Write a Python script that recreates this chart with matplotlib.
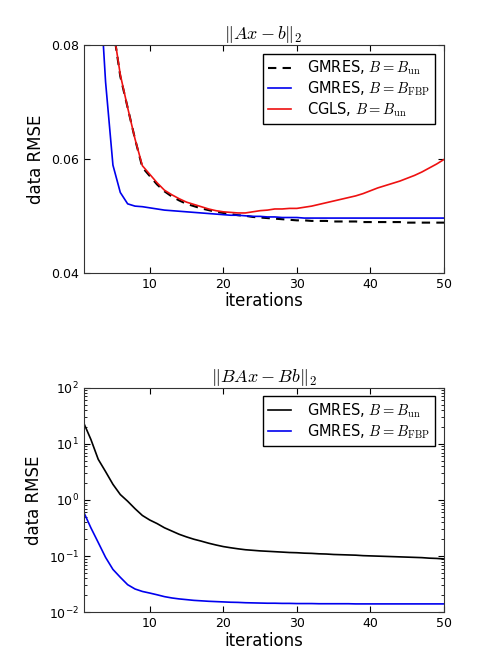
import numpy as np
import matplotlib
matplotlib.use("Agg")
import matplotlib.pyplot as plt

plt.rcParams['mathtext.fontset'] = 'cm'
plt.rcParams['font.family'] = 'DejaVu Sans'
plt.rcParams['xtick.direction'] = 'in'
plt.rcParams['ytick.direction'] = 'in'
plt.rcParams['xtick.top'] = True
plt.rcParams['ytick.right'] = True

iters = list(range(1, 51))

# top panel: ||Ax - b||_2
gmres_un = [0.200, 0.150, 0.120, 0.096, 0.0832, 0.0745, 0.0690, 0.0635, 0.0585, 0.0570,
            0.0555, 0.0543, 0.0534, 0.0527, 0.0521, 0.0517, 0.0513, 0.0510, 0.0507, 0.0505,
            0.0503, 0.0501, 0.0500, 0.0498, 0.0497, 0.0496, 0.0495, 0.0494, 0.0493, 0.0492,
            0.0492, 0.0491, 0.0491, 0.0491, 0.0490, 0.0490, 0.0490, 0.0490, 0.0489, 0.0489,
            0.0489, 0.0489, 0.0489, 0.0489, 0.0488, 0.0488, 0.0488, 0.0488, 0.0488, 0.0488]
gmres_fbp = [0.200, 0.140, 0.095, 0.0735, 0.0589, 0.0541, 0.0521, 0.0517, 0.0516, 0.0514,
             0.0512, 0.0510, 0.0509, 0.0508, 0.0507, 0.0506, 0.0505, 0.0504, 0.0503, 0.0502,
             0.0501, 0.0501, 0.0500, 0.0499, 0.0499, 0.0498, 0.0498, 0.0497, 0.0497, 0.0497,
             0.0496, 0.0496, 0.0496, 0.0496, 0.0496, 0.0496, 0.0496, 0.0496, 0.0496, 0.0496,
             0.0496, 0.0496, 0.0496, 0.0496, 0.0496, 0.0496, 0.0496, 0.0496, 0.0496, 0.0496]
cgls_un = [0.200, 0.150, 0.120, 0.096, 0.0832, 0.0748, 0.0690, 0.0635, 0.0588, 0.0573,
           0.0558, 0.0545, 0.0537, 0.0530, 0.0524, 0.0520, 0.0516, 0.0512, 0.0509, 0.0507,
           0.0506, 0.0505, 0.0505, 0.0507, 0.0509, 0.0510, 0.0512, 0.0512, 0.0513, 0.0513,
           0.0515, 0.0517, 0.0520, 0.0523, 0.0526, 0.0529, 0.0532, 0.0535, 0.0539, 0.0544,
           0.0549, 0.0553, 0.0557, 0.0561, 0.0566, 0.0571, 0.0577, 0.0584, 0.0591, 0.0599]

# bottom panel: ||BAx - Bb||_2
pre_un = [24.0, 12.0, 5.3, 3.2, 1.9, 1.25, 0.95, 0.70, 0.53, 0.44,
          0.38, 0.32, 0.28, 0.245, 0.22, 0.20, 0.185, 0.170, 0.158, 0.148,
          0.141, 0.135, 0.130, 0.127, 0.124, 0.122, 0.120, 0.118, 0.116, 0.115,
          0.113, 0.112, 0.110, 0.109, 0.107, 0.106, 0.105, 0.104, 0.102, 0.101,
          0.100, 0.099, 0.098, 0.097, 0.096, 0.095, 0.094, 0.092, 0.091, 0.089]
pre_fbp = [0.62, 0.32, 0.175, 0.095, 0.058, 0.042, 0.031, 0.026, 0.0235, 0.022,
           0.0205, 0.019, 0.018, 0.0173, 0.0168, 0.0163, 0.0160, 0.0157, 0.0155, 0.0153,
           0.0151, 0.0150, 0.0148, 0.0147, 0.0146, 0.0145, 0.0145, 0.0144, 0.0144, 0.0143,
           0.0143, 0.0143, 0.0142, 0.0142, 0.0142, 0.0142, 0.0142, 0.0141, 0.0141, 0.0141,
           0.0141, 0.0141, 0.0141, 0.0141, 0.0141, 0.0141, 0.0141, 0.0141, 0.0141, 0.0141]

lab_un = r'GMRES, $B = B_{\mathrm{un}}$'
lab_fbp = r'GMRES, $B = B_{\mathrm{FBP}}$'
lab_cgls = r'CGLS, $B = B_{\mathrm{un}}$'

fig = plt.figure(figsize=(4.78, 6.61), dpi=100)
ax1 = fig.add_axes([0.1747, 0.5874, 0.7542, 0.3445])
ax2 = fig.add_axes([0.1747, 0.0737, 0.7542, 0.3398])

leg_kw = dict(loc='upper right', fontsize=10.5, fancybox=False, edgecolor='black',
              framealpha=1, borderaxespad=0.6, handlelength=1.6, handletextpad=1.1,
              labelspacing=0.15, borderpad=0.35)

# top
ax1.plot(iters, gmres_un, color='k', ls=(0, (4, 3)), lw=1.5, label=lab_un)
ax1.plot(iters, gmres_fbp, color='#0000ee', lw=1.2, label=lab_fbp)
ax1.plot(iters, cgls_un, color='#ee1111', lw=1.2, label=lab_cgls)
ax1.set_xlim(1, 50)
ax1.set_ylim(0.04, 0.08)
ax1.set_yticks([0.04, 0.06, 0.08])
ax1.set_xticks([10, 20, 30, 40, 50])
ax1.set_xlabel('iterations', fontsize=12, labelpad=1)
ax1.set_ylabel('data RMSE', fontsize=12)
ax1.set_title(r'$\|Ax - b\|_2$', fontsize=13, pad=3)
ax1.legend(**leg_kw)

# bottom
ax2.semilogy(iters, pre_un, 'k-', lw=1.2, label=lab_un)
ax2.semilogy(iters, pre_fbp, color='#0000ee', lw=1.2, label=lab_fbp)
ax2.set_xlim(1, 50)
ax2.set_ylim(1e-2, 1e2)
ax2.set_xticks([10, 20, 30, 40, 50])
ax2.set_xlabel('iterations', fontsize=12, labelpad=1)
ax2.set_ylabel('data RMSE', fontsize=12)
ax2.set_title(r'$\|BAx - Bb\|_2$', fontsize=13, pad=3)
ax2.legend(**leg_kw)

for ax in (ax1, ax2):
    ax.tick_params(labelsize=9, length=4)
    ax.tick_params(which='minor', length=2)
    for sp in ax.spines.values():
        sp.set_color('#333333')

fig.savefig('out.png', dpi=100)
